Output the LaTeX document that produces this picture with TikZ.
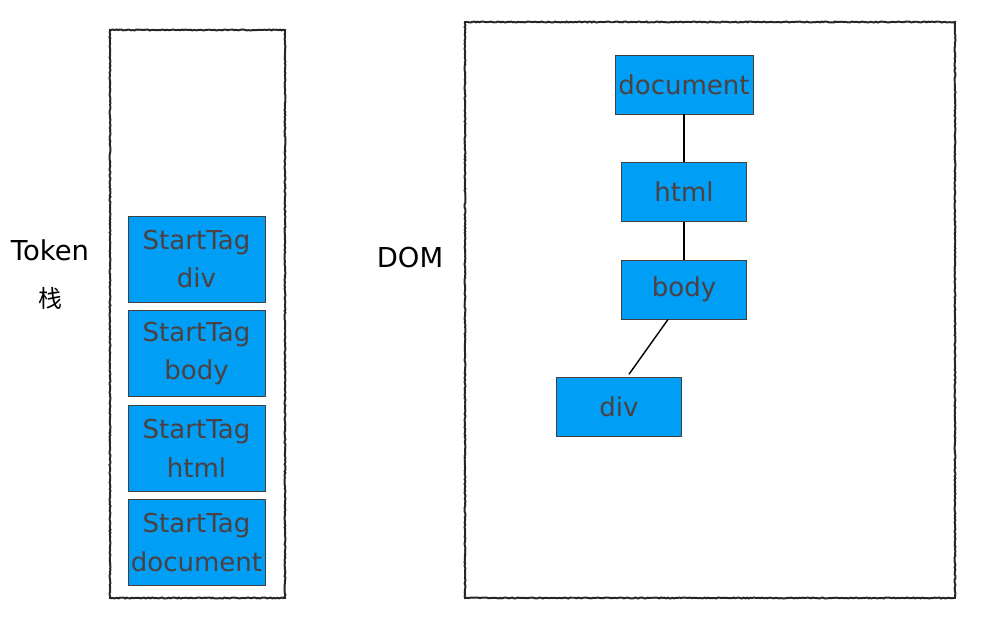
\documentclass[tikz,border=0pt]{standalone}
\usepackage{fontspec}
\setmainfont{DejaVu Sans}
\newfontfamily\cjk{Noto Sans CJK SC}
\usetikzlibrary{positioning,decorations.pathmorphing}
\definecolor{tagblue}{RGB}{0,159,245}
\definecolor{tagtext}{RGB}{77,64,64}

\begin{document}
\begin{tikzpicture}[x=0.025cm, y=-0.025cm,
    rough/.style = {draw=black!85, line width=1.4pt, decorate, decoration={random steps, segment length=1.2pt, amplitude=0.35pt}},
    tag/.style = {draw=black!75, fill=tagblue, text=tagtext, font=\fontsize{18.5}{27.5}\selectfont, align=center, minimum width=3.425cm, minimum height=2.15cm, inner sep=0pt},
    dom/.style = {draw=black!75, fill=tagblue, text=tagtext, font=\fontsize{18.5}{22}\selectfont, minimum width=3.125cm, minimum height=1.475cm, inner sep=0pt},
    label/.style = {font=\fontsize{19.5}{24}\selectfont}]

    \useasboundingbox (0,0) rectangle (981,623);

    % frames
    \draw[rough] (110,30) rectangle (285,598);
    \draw[rough] (465,22) rectangle (955,598);
    \node[label] (token) at (50,250) {Token};
    \node[label, font=\fontsize{17}{20}\selectfont] (zhan) at (50,298) {\cjk 栈};
    \node[label] (domlabel) at (410,258) {DOM};

    % token stack
    \node[tag] (tagdiv) at (196.5,259) {StartTag\\div};
    \node[tag, below=0.2cm of tagdiv] (tagbody) {StartTag\\body};
    \node[tag, below=0.2cm of tagbody] (taghtml) {StartTag\\html};
    \node[tag, below=0.2cm of taghtml] (tagdoc) {StartTag\\document};

    % dom tree
    \node[dom, minimum width=3.45cm] (document) at (684,84.5) {document};
    \node[dom, below=1.2cm of document] (html) {html};
    \node[dom, below=0.95cm of html] (body) {body};
    \node[dom, below=1.45cm of body, xshift=-1.625cm] (div) {div};

    \draw[line width=1pt] (document) -- (html);
    \draw[line width=1pt] (html) -- (body);
    \draw[line width=1pt] ([xshift=-0.4cm]body.south) -- ([xshift=0.25cm, yshift=0.08cm]div.north);

\end{tikzpicture}
\end{document}
